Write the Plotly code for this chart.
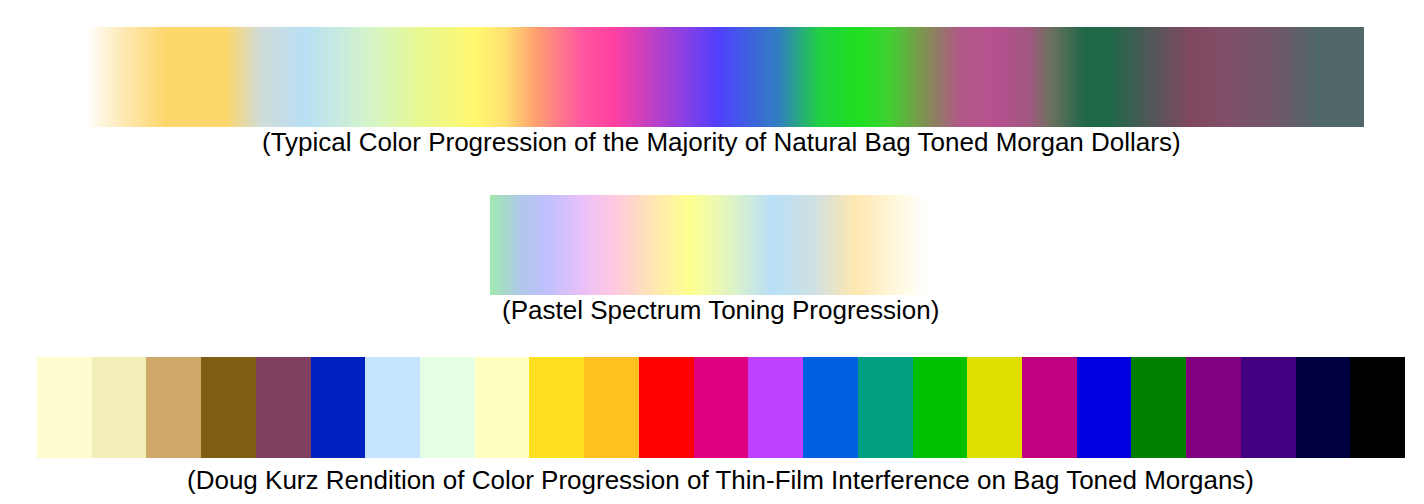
import plotly.graph_objects as go

W, H = 1424, 504
OFF = 8  # page body margin

top_pos = [85,125,165,225,260,305,370,420,475,505,535,580,612,680,718,780,820,860,890,925,960,995,1030,1050,1085,1110,1150,1190,1230,1275,1320,1364]
top_col = ["#FFFFFF","#FEE8B0","#FDD66C","#FDD66C","#D0DCD8","#B8DFF5","#D5F5C8","#E8F890","#FFF870","#FFE070","#FFA070","#FF58A0","#FF40A0","#9040E0","#5040FF","#3080C0","#20D040","#20E020","#40D030","#809050","#B05888","#B85090","#A05880","#707060","#206848","#206848","#505858","#804860","#805068","#705868","#506868","#506868"]

mid_pos = [490,520,547,581,614,655,688,722,772,816,856,900,927,935]
mid_col = ["#A0E8B0","#B0C8E8","#C0C0FF","#E8C0F8","#FFC8E0","#FFE8B0","#FFFF90","#E8F8B8","#B8E0F8","#D0E0E0","#FFE8B0","#FFF8E0","#FFFFFF","#FFFFFF"]

bot_col = ["#FFFCD0","#F2F0B8","#D0A96A","#7F5F14","#7F4060","#0020C0","#C4E4FF","#E4FFE4","#FFFFC0","#FFE020",
           "#FFC020","#FF0000","#E0007F","#C040FF","#0060E0","#00A080","#00C000","#E0E000","#C0007F","#0000E0",
           "#008000","#800080","#400080","#000040","#000000"]

captions = ["(Typical Color Progression of the Majority of Natural Bag Toned Morgan Dollars)",
            "(Pastel Spectrum Toning Progression)",
            "(Doug Kurz Rendition of Color Progression of Thin-Film Interference on Bag Toned Morgans)"]

def gradient(pos, cols):
    a, b = pos[0], pos[-1]
    scale = [[(p - a) / (b - a), c] for p, c in zip(pos, cols)]
    xs = list(range(a, b + 1))
    return xs, scale, a, b

fig = go.Figure()
for pos, cols, xa, ya in [(top_pos, top_col, "x", "y"), (mid_pos, mid_col, "x2", "y2")]:
    xs, scale, a, b = gradient(pos, cols)
    fig.add_trace(go.Heatmap(x=xs, y=[0], z=[xs], colorscale=scale, zmin=a, zmax=b,
                             showscale=False, hoverinfo="skip", xaxis=xa, yaxis=ya))
fig.add_trace(go.Heatmap(z=[list(range(len(bot_col)))],
                         colorscale=[[i/(len(bot_col)-1), c] for i, c in enumerate(bot_col)],
                         showscale=False, hoverinfo="skip", xaxis="x3", yaxis="y3"))

def xd(a, b): return [(a - OFF)/W, (b - OFF)/W]
def yd(t, b): return [1-(b - OFF)/H, 1-(t - OFF)/H]
ax = dict(visible=False, fixedrange=True)
fig.update_layout(
    width=W, height=H, margin=dict(l=0, r=0, t=0, b=0),
    paper_bgcolor="white", plot_bgcolor="white",
    xaxis=dict(ax, domain=xd(85, 1364), range=[84.5, 1364.5]),
    yaxis=dict(ax, domain=yd(27, 127), range=[-0.5, 0.5]),
    xaxis2=dict(ax, domain=xd(490, 935), range=[489.5, 935.5], anchor="y2"),
    yaxis2=dict(ax, domain=yd(195, 295), range=[-0.5, 0.5], anchor="x2"),
    xaxis3=dict(ax, domain=xd(37, 1405), range=[-0.5, len(bot_col)-0.5], anchor="y3"),
    yaxis3=dict(ax, domain=yd(357, 458), range=[-0.5, 0.5], anchor="x3"),
    font=dict(family="Liberation Sans, Arial", color="black"),
)
for txt, x, y in zip(captions, [721, 720, 720], [142, 310, 480]):
    fig.add_annotation(text=txt, x=(x-OFF)/W, y=1-(y-OFF)/H, xref="paper", yref="paper", showarrow=False,
                       font=dict(size=26), xanchor="center", yanchor="middle")
fig.write_html("out.html")
